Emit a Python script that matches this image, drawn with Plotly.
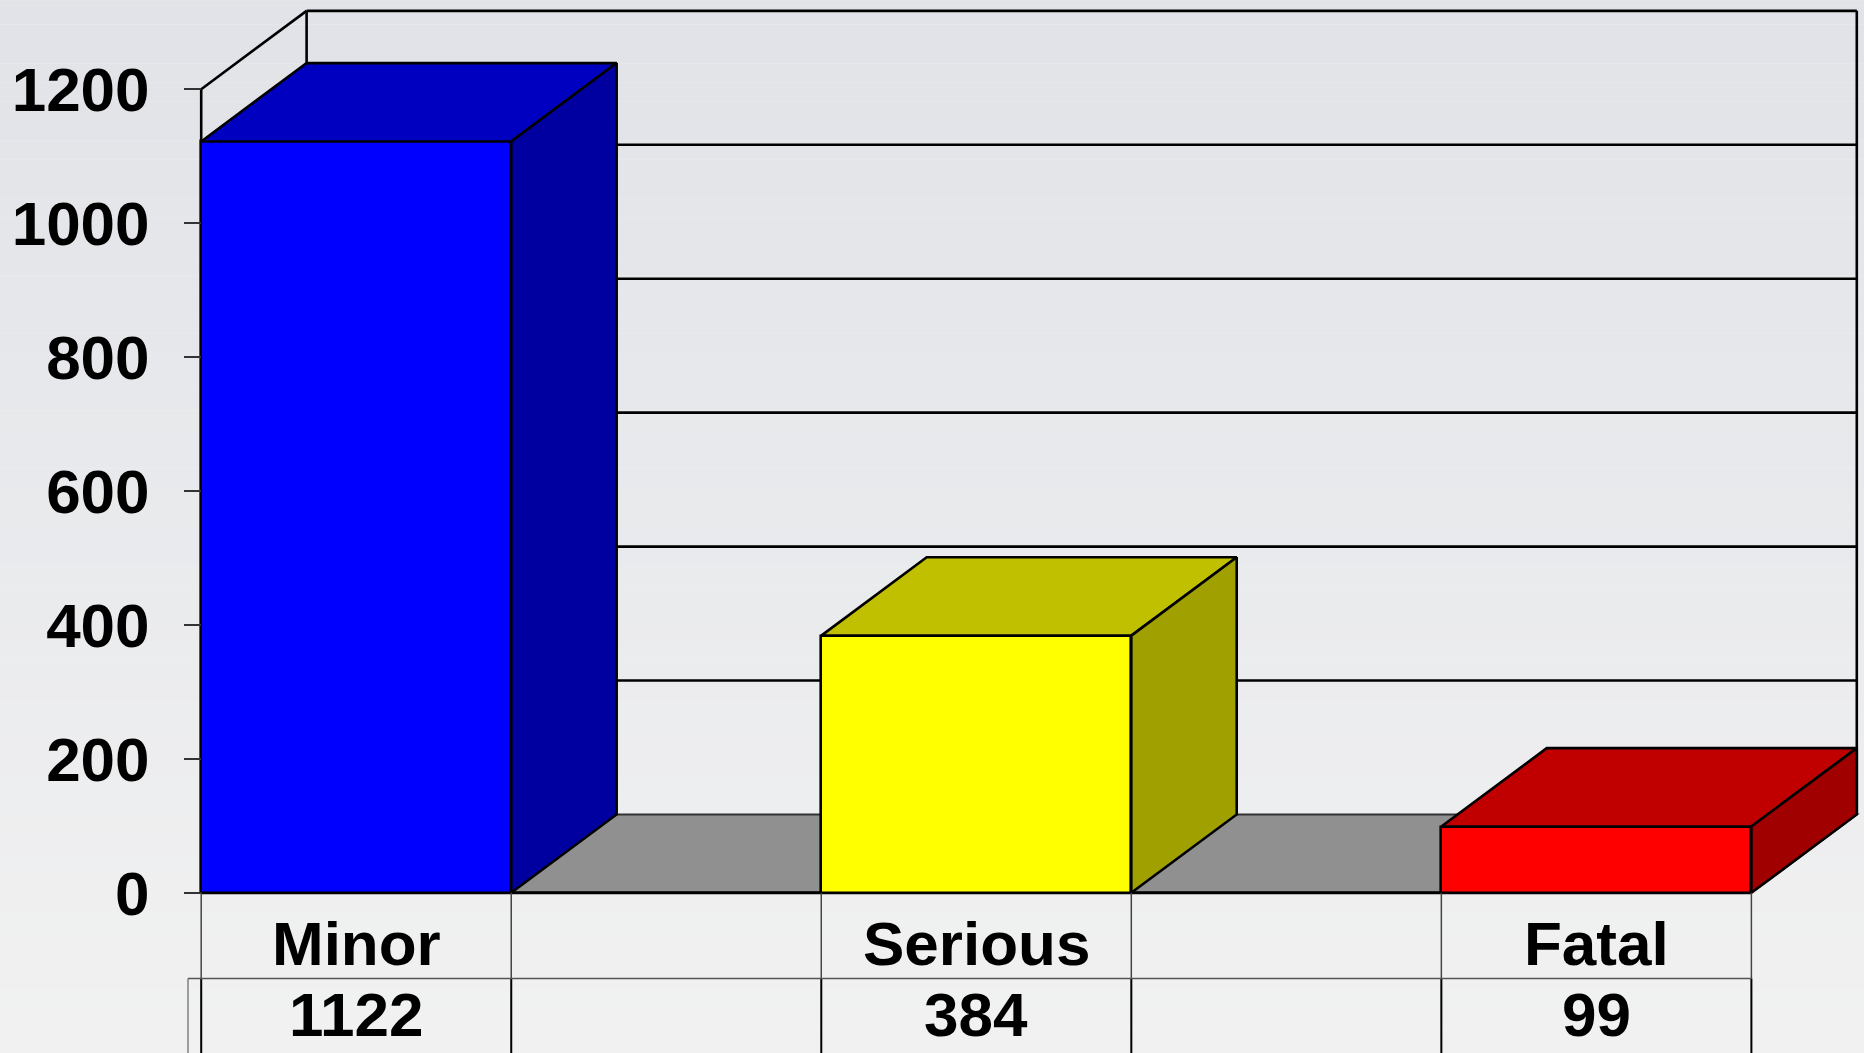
import plotly.graph_objects as go

# ---- data ----
categories = ["Minor", "", "Serious", "", "Fatal"]
values = [1122, None, 384, None, 99]
value_labels = ["1122", "", "384", "", "99"]
front_colors = ["#0000FF", None, "#FFFF00", None, "#FF0000"]
top_colors = ["#0000C0", None, "#C0C000", None, "#C00000"]
side_colors = ["#0000A0", None, "#A0A000", None, "#A00000"]
y_ticks = [0, 200, 400, 600, 800, 1000, 1200]

# ---- style / geometry constants ----
DX, DY = 0.34, 117          # 3D depth offset (category units, value units)
Y_MAX = 1200
Y_RANGE = [-239.2, 1333.2]
X_RANGE = [-0.52, 4.86]
ROW1_Y, ROW_SPLIT, ROW2_Y = -76, -127.8, -182
FONT = "Liberation Sans, Arial, sans-serif"
FS = 62
LW = 2.6
W, H = 1864, 1053
ML, MR = 195, 1

fig = go.Figure()

# background gradient bands
shapes = []
top_rgb = (224, 226, 231)
bot_rgb = (242, 242, 242)
N = 60
for k in range(N):
    t = k / (N - 1)
    c = tuple(round(top_rgb[j] + (bot_rgb[j] - top_rgb[j]) * t) for j in range(3))
    shapes.append(dict(type="rect", xref="paper", yref="paper",
                       x0=-0.2, x1=1.2, y0=1.05 - (k + 1) * 1.1 / N, y1=1.05 - k * 1.1 / N,
                       fillcolor="rgb(%d,%d,%d)" % c, line=dict(width=0), layer="below"))

n = len(categories)
x_left, x_right = -0.5, n - 0.5

# left wall gridlines (diagonals) and back wall gridlines
for t in y_ticks[1:]:
    shapes.append(dict(type="line", xref="x", yref="y", x0=x_left, y0=t, x1=x_left + DX, y1=t + DY,
                       line=dict(color="black", width=LW), layer="below"))
    shapes.append(dict(type="line", xref="x", yref="y", x0=x_left + DX, y0=t + DY, x1=x_right + DX, y1=t + DY,
                       line=dict(color="black", width=LW), layer="below"))
# back wall outline (left & right edges)
shapes.append(dict(type="line", xref="x", yref="y", x0=x_left + DX, y0=DY, x1=x_left + DX, y1=Y_MAX + DY,
                   line=dict(color="black", width=LW), layer="below"))
shapes.append(dict(type="line", xref="x", yref="y", x0=x_right + DX, y0=DY, x1=x_right + DX, y1=Y_MAX + DY,
                   line=dict(color="black", width=LW), layer="below"))
# left wall front edge
shapes.append(dict(type="line", xref="x", yref="y", x0=x_left, y0=0, x1=x_left, y1=Y_MAX,
                   line=dict(color="black", width=LW), layer="below"))
# floor
shapes.append(dict(type="path", xref="x", yref="y",
                   path="M %f,0 L %f,0 L %f,%f L %f,%f Z" % (x_left, x_right, x_right + DX, DY, x_left + DX, DY),
                   fillcolor="#909090", line=dict(color="#333333", width=2), layer="below"))
shapes.append(dict(type="line", xref="x", yref="y", x0=x_left, y0=0, x1=x_right, y1=0,
                   line=dict(color="black", width=3), layer="below"))

# data table lines
for i in range(n + 1):
    xb = i - 0.5
    shapes.append(dict(type="line", xref="x", yref="y", x0=xb, y0=0, x1=xb, y1=ROW_SPLIT,
                       line=dict(color="#444444", width=1.5), layer="above"))
    shapes.append(dict(type="line", xref="x", yref="y", x0=xb, y0=ROW_SPLIT, x1=xb, y1=Y_RANGE[0],
                       line=dict(color="black", width=2), layer="above"))
plot_w = W - ML - MR
left_edge_paper = (188 - ML) / plot_w
shapes.append(dict(type="line", xref="paper", yref="y", x0=left_edge_paper, y0=ROW_SPLIT,
                   x1=(x_right - X_RANGE[0]) / (X_RANGE[1] - X_RANGE[0]), y1=ROW_SPLIT,
                   line=dict(color="#555555", width=1.5), layer="above"))
shapes.append(dict(type="line", xref="paper", yref="y", x0=left_edge_paper, y0=ROW_SPLIT, x1=left_edge_paper, y1=Y_RANGE[0],
                   line=dict(color="#666666", width=1.2), layer="above"))

# front faces of bars
xs = list(range(n))
fig.add_trace(go.Bar(
    x=xs, y=values, width=1,
    marker=dict(color=[c if c else "rgba(0,0,0,0)" for c in front_colors],
                line=dict(color="black", width=LW)),
    hoverinfo="skip", showlegend=False))

# top and side faces
for i, v in enumerate(values):
    if v is None:
        continue
    x0, x1 = i - 0.5, i + 0.5
    fig.add_trace(go.Scatter(
        x=[x0, x1, x1 + DX, x0 + DX, x0], y=[v, v, v + DY, v + DY, v],
        mode="lines", fill="toself", fillcolor=top_colors[i],
        line=dict(color="black", width=LW), hoverinfo="skip", showlegend=False))
    fig.add_trace(go.Scatter(
        x=[x1, x1 + DX, x1 + DX, x1, x1], y=[0, DY, v + DY, v, 0],
        mode="lines", fill="toself", fillcolor=side_colors[i],
        line=dict(color="black", width=LW), hoverinfo="skip", showlegend=False))

# table text
annotations = []
for i in range(n):
    if categories[i]:
        annotations.append(dict(x=i, y=ROW1_Y, xref="x", yref="y", text=categories[i], showarrow=False,
                                font=dict(family=FONT, size=FS, color="black", weight="bold")))
    if value_labels[i]:
        annotations.append(dict(x=i, y=ROW2_Y, xref="x", yref="y", text=value_labels[i], showarrow=False,
                                font=dict(family=FONT, size=FS, color="black", weight="bold")))

axis_pos = (201 - ML) / plot_w
fig.update_layout(
    width=W, height=H,
    margin=dict(l=ML, r=MR, t=0, b=0),
    paper_bgcolor="rgb(242,242,242)", plot_bgcolor="rgba(0,0,0,0)",
    shapes=shapes, annotations=annotations,
    bargap=0,
    xaxis=dict(range=X_RANGE, showgrid=False, zeroline=False, showticklabels=False, ticks="", fixedrange=True),
    yaxis=dict(range=Y_RANGE, tickvals=y_ticks, ticktext=[str(t) for t in y_ticks],
               showgrid=False, zeroline=False, ticks="outside", ticklen=17, tickwidth=2, tickcolor="#333333",
               anchor="free", position=axis_pos, ticklabelstandoff=22,
               tickfont=dict(family=FONT, size=FS, color="black", weight="bold"), fixedrange=True),
    showlegend=False,
)

fig.write_html("out.html", config={"displayModeBar": False},
               post_script="document.body.style.margin='0';document.body.style.overflow='hidden';")
